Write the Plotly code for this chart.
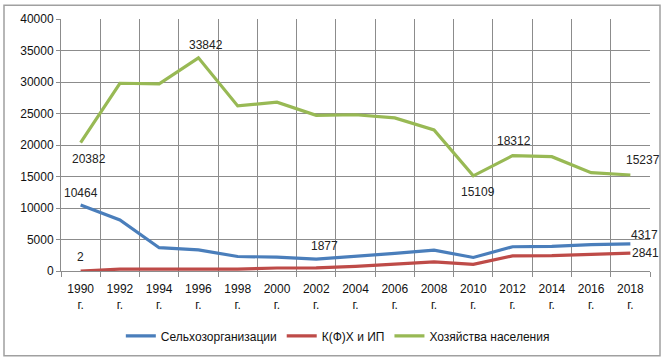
import plotly.graph_objects as go

years = ["1990<br>г.", "1992<br>г.", "1994<br>г.", "1996<br>г.", "1998<br>г.", "2000<br>г.",
         "2002<br>г.", "2004<br>г.", "2006<br>г.", "2008<br>г.", "2010<br>г.", "2012<br>г.",
         "2014<br>г.", "2016<br>г.", "2018<br>г."]
selkhoz = [10464, 8100, 3700, 3350, 2300, 2200, 1877, 2300, 2800, 3300, 2150, 3850, 3900, 4200, 4317]
kfh = [2, 300, 300, 300, 300, 480, 500, 750, 1050, 1450, 1050, 2400, 2450, 2700, 2841]
hoz = [20382, 29800, 29700, 33842, 26200, 26800, 24700, 24800, 24300, 22400, 15109, 18312, 18150, 15600, 15237]

names = ["Сельхозорганизации", "К(Ф)Х и ИП", "Хозяйства населения"]
colors = ["#4A7EBB", "#BE4B48", "#98B954"]

# labelled points: (series index, category index, xshift, yshift)
labels = [
    (0, 0, 0, 12), (1, 0, 0, 14), (0, 6, 8, 13), (0, 14, 14, 9), (1, 14, 15, 0),
    (2, 0, 8, -16), (2, 3, 8, 13), (2, 11, 1, 15), (2, 10, 5, -16), (2, 14, 13, 15),
]

fig = go.Figure()
series = [selkhoz, kfh, hoz]
for s, n, c in zip(series, names, colors):
    fig.add_trace(go.Scatter(x=years, y=s, name=n, mode="lines",
                             line=dict(color=c, width=3.2)))

for si, ci, xs, ys in labels:
    fig.add_annotation(x=years[ci], y=series[si][ci], text=str(series[si][ci]),
                       showarrow=False, xshift=xs, yshift=ys,
                       font=dict(size=12, color="#222"))

L, R, T, B = 61, 20, 16, 91
W, H = 670, 363
pw, ph = W - L - R, H - T - B
fig.add_shape(type="rect", xref="paper", yref="paper",
              x0=(4 - L) / pw, x1=(660 - L) / pw,
              y0=(H - B - 358) / ph, y1=(H - B - 2) / ph,
              line=dict(color="#A0A0A0", width=1.5), layer="below")

fig.update_layout(
    width=W, height=H,
    margin=dict(l=L, r=R, t=T, b=B),
    paper_bgcolor="white", plot_bgcolor="white",
    font=dict(family="Liberation Sans, Arial, sans-serif", size=12, color="#111"),
    showlegend=True,
    legend=dict(orientation="h", x=0.47, xanchor="center", y=(H - B - 338) / ph,
                yanchor="middle", font=dict(size=12), itemwidth=30,
                tracegroupgap=0),
    xaxis=dict(type="category", range=[-0.5, 14.5], tickson="boundaries",
               showgrid=True, gridcolor="#8C8C8C", gridwidth=1,
               showline=True, linecolor="#8C8C8C", ticks="outside", ticklen=5,
               tickcolor="#8C8C8C", tickfont=dict(size=12), tickangle=0,
               ticklabelstandoff=7),
    yaxis=dict(range=[0, 40000], dtick=5000, tickformat="d", showgrid=True,
               gridcolor="#8C8C8C", showline=True, linecolor="#8C8C8C",
               ticks="outside", ticklen=4, tickcolor="#8C8C8C", zeroline=False,
               tickfont=dict(size=12)),
)

fig.write_html("out.html", config={"displayModeBar": False},
               post_script="document.body.style.margin='0';document.body.style.overflow='hidden';")
